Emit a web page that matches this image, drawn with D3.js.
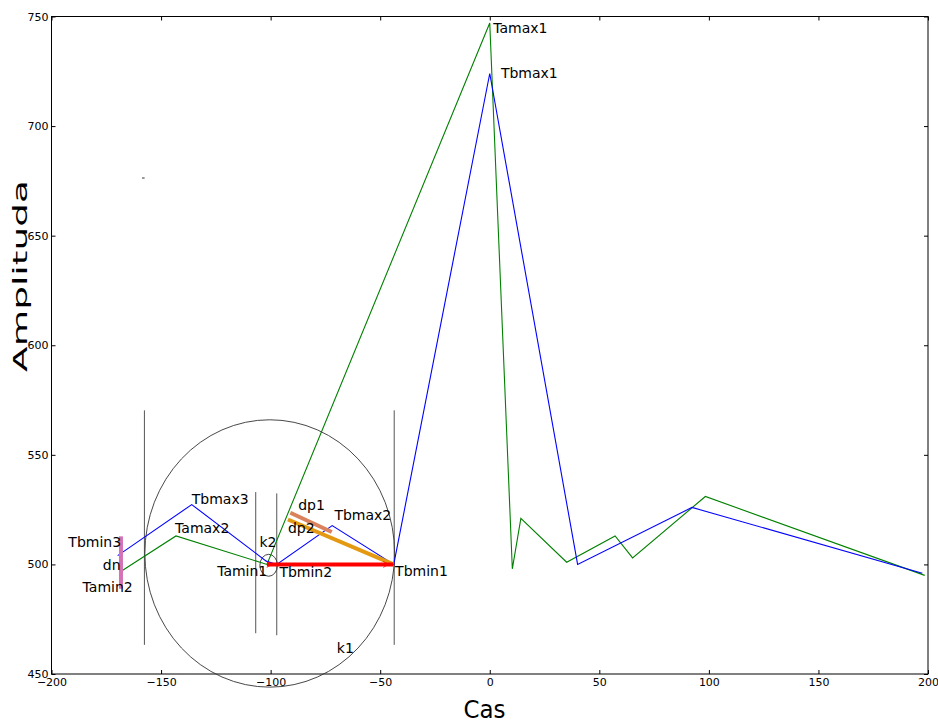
<!DOCTYPE html>
<html>
<head>
<meta charset="utf-8">
<script src="https://cdn.jsdelivr.net/npm/d3@7"></script>
<style>
  html, body { margin: 0; padding: 0; background: #fff; }
  svg { display: block; font-family: "DejaVu Sans", sans-serif; }
</style>
</head>
<body>
<svg id="chart" width="938" height="724"></svg>
<script>
// Signal A (green) and signal B (blue) as polylines through detected extrema
const taX = [-167.5, -143.2, -101.7, 0, 10.3, 14.2, 35.1, 57.2, 65.2, 98.4, 198.5];
const taY = [497.3, 513, 500, 747, 498, 521, 501, 513, 503, 531, 495];
const tbX = [-169.8, -136, -102, -97.2, -71.9, -43.8, 0, 40.1, 92.3, 197.4];
const tbY = [504, 527.3, 501.5, 500, 517.7, 500, 724, 500, 526, 496];

// Vertical guide lines: x, y start, y end
const guideX = [-157.6, -106.8, -97.2, -43.6];
const guideY0 = [463.3, 468.6, 467.7, 463.3];
const guideY1 = [570.3, 533, 532.4, 570.3];

// Circles k1 and k2: centre and radii in data units
const circleCX = [-100.4, -100.9];
const circleCY = [505, 499.6];
const circleRX = [57, 4];
const circleRY = [61, 5];

// Measurement segments: dn, dp1, dp2, base
const segNames = ["dn", "dp1", "dp2", "base"];
const segX0 = [-168.3, -91, -92.1, -101.7];
const segY0 = [512.8, 523.6, 520.5, 500];
const segX1 = [-168.3, -72.1, -43.9, -43.9];
const segY1 = [488.9, 514.8, 500, 500];
const segColors = ["#d472b5", "#d9825b", "#e39a12", "#ff0000"];

// Arrow tips along the base segment
const arrowX = [-99.5, -46.3];
const arrowY = [500, 500];

// Point labels
const labelText = ["Tamax1", "Tbmax1", "Tbmax3", "Tamax2", "Tbmin3", "dn", "Tamin2",
  "Tamin1", "Tbmin2", "Tbmin1", "k2", "dp1", "dp2", "Tbmax2", "k1"];
const labelX = [1.6, 5.1, -136, -143.6, -192.3, -176.6, -185.8,
  -124.4, -96, -43.2, -105.1, -87.4, -92.1, -70.9, -69.8];
const labelY = [742.3, 721.8, 527.7, 514.3, 507.9, 497.6, 487.4,
  494.5, 494.2, 494.5, 507.9, 524.7, 514.3, 520.4, 459.7];

// Axis ticks
const xTicks = [-200, -150, -100, -50, 0, 50, 100, 150, 200];
const yTicks = [450, 500, 550, 600, 650, 700, 750];

const svg = d3.select("#chart");
const plotLeft = 51.5, plotRight = 928, plotTop = 16.5, plotBottom = 674;

const x = d3.scaleLinear().domain([-200, 200]).range([plotLeft, plotRight]);
const y = d3.scaleLinear().domain([450, 750]).range([plotBottom, plotTop]);

// Plot frame
svg.append("rect")
  .attr("x", plotLeft).attr("y", plotTop)
  .attr("width", plotRight - plotLeft).attr("height", plotBottom - plotTop)
  .attr("fill", "none").attr("stroke", "#000").attr("stroke-width", 1);

// Axes with inward ticks on all sides
const fmt = d3.format("");
const axB = d3.axisBottom(x).tickValues(xTicks).tickSize(-4).tickPadding(4).tickFormat(fmt);
const axT = d3.axisTop(x).tickValues(xTicks).tickSize(-4).tickFormat("");
const axL = d3.axisLeft(y).tickValues(yTicks).tickSize(-4).tickPadding(3).tickFormat(fmt);
const axR = d3.axisRight(y).tickValues(yTicks).tickSize(-4).tickFormat("");

function styleAxis(g) {
  g.select(".domain").remove();
  g.selectAll(".tick line").attr("stroke", "#000");
  g.selectAll(".tick text").attr("font-size", 11).attr("fill", "#000")
    .attr("font-family", "DejaVu Sans, sans-serif");
}
svg.append("g").attr("transform", `translate(0,${plotBottom})`).call(axB).call(styleAxis);
svg.append("g").attr("transform", `translate(0,${plotTop})`).call(axT).call(styleAxis);
svg.append("g").attr("transform", `translate(${plotLeft},0)`).call(axL).call(styleAxis);
svg.append("g").attr("transform", `translate(${plotRight},0)`).call(axR).call(styleAxis);

// Vertical guides
svg.append("g").selectAll("line").data(guideX).join("line")
  .attr("x1", d => x(d)).attr("x2", d => x(d))
  .attr("y1", (d, i) => y(guideY0[i])).attr("y2", (d, i) => y(guideY1[i]))
  .attr("stroke", "#555").attr("stroke-width", 1);

// Circles
svg.append("g").selectAll("ellipse").data(circleCX).join("ellipse")
  .attr("cx", d => x(d)).attr("cy", (d, i) => y(circleCY[i]))
  .attr("rx", (d, i) => x(circleCX[i] + circleRX[i]) - x(circleCX[i]))
  .attr("ry", (d, i) => y(circleCY[i]) - y(circleCY[i] + circleRY[i]))
  .attr("fill", "none").attr("stroke", "#333").attr("stroke-width", 0.9);

// Series lines
const line = d3.line().x(d => x(d[0])).y(d => y(d[1]));
svg.append("path").datum(taX.map((v, i) => [v, taY[i]]))
  .attr("d", line).attr("fill", "none").attr("stroke", "#008000").attr("stroke-width", 1.1);
svg.append("path").datum(tbX.map((v, i) => [v, tbY[i]]))
  .attr("d", line).attr("fill", "none").attr("stroke", "#0000ff").attr("stroke-width", 1.1);

// Measurement segments
svg.append("g").selectAll("line").data(segNames).join("line")
  .attr("x1", (d, i) => x(segX0[i])).attr("y1", (d, i) => y(segY0[i]))
  .attr("x2", (d, i) => x(segX1[i])).attr("y2", (d, i) => y(segY1[i]))
  .attr("stroke", (d, i) => segColors[i]).attr("stroke-width", 4);

// Arrow tips
svg.append("g").selectAll("path").data(arrowX).join("path")
  .attr("d", (d, i) => {
    const px = x(d), py = y(arrowY[i]);
    return `M${px - 5},${py - 3}L${px},${py}L${px - 5},${py + 3}`;
  })
  .attr("fill", "none").attr("stroke", "#ff0000").attr("stroke-width", 0.8);

// Small stray tick near the upper left
svg.append("line")
  .attr("x1", x(-158.7)).attr("x2", x(-157.5))
  .attr("y1", y(676.3)).attr("y2", y(676.3))
  .attr("stroke", "#777").attr("stroke-width", 1.5);

// Point labels
svg.append("g").selectAll("text").data(labelText).join("text")
  .attr("x", (d, i) => x(labelX[i])).attr("y", (d, i) => y(labelY[i]))
  .attr("font-size", 14).attr("fill", "#000")
  .text(d => d);

// Axis titles
svg.append("text")
  .attr("x", 484.5).attr("y", 718)
  .attr("text-anchor", "middle")
  .attr("font-size", 25).attr("textLength", 42).attr("lengthAdjust", "spacingAndGlyphs")
  .text("Cas");

svg.append("text")
  .attr("transform", "translate(27,276) rotate(-90)")
  .attr("text-anchor", "middle")
  .attr("font-size", 19).attr("textLength", 192).attr("lengthAdjust", "spacingAndGlyphs")
  .text("Amplituda");
</script>
</body>
</html>
